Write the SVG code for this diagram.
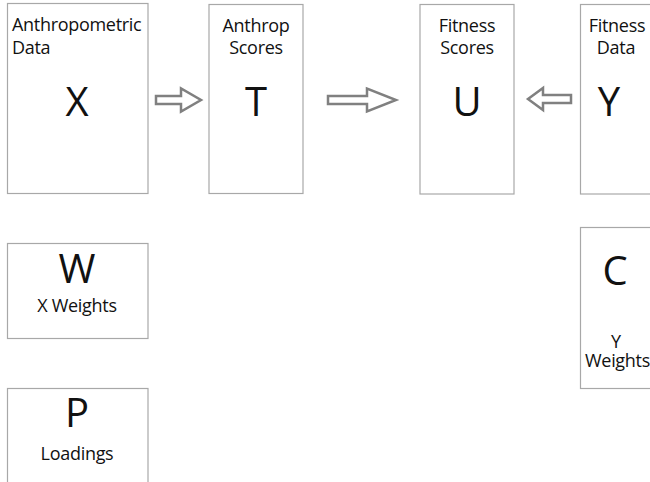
<svg xmlns="http://www.w3.org/2000/svg" width="650" height="482" viewBox="0 0 650 482">
<style>
.box{fill:#fff;stroke:#a8a8a8;stroke-width:1.2}
.lbl{font-family:"Open Sans","Liberation Sans",sans-serif;font-size:18px;letter-spacing:-0.3px;fill:#111}
.big{font-family:"Open Sans","Liberation Sans",sans-serif;font-size:40px;fill:#111;text-anchor:middle}
.c{text-anchor:middle}
.arr{fill:#fff;stroke:#808080;stroke-width:2.5;stroke-linejoin:miter}
</style>
<rect width="650" height="482" fill="#fff"/>
<g id="connectors">
<polygon class="arr" points="156,96 181,96 181,88.5 201,100 181,111.5 181,104 156,104"/>
<polygon class="arr" points="328,96 367,96 367,88.5 396,100 367,111.5 367,104 328,104"/>
<polygon class="arr" points="571,95 543,95 543,88 528,99 543,110 543,103 571,103"/>
</g>
<g id="node-X">
<rect class="box" x="7.5" y="3.5" width="140.5" height="190"/>
<text class="lbl" x="12" y="31">Anthropometric</text>
<text class="lbl" x="12" y="54">Data</text>
<text class="big" x="77" y="116">X</text>
</g>
<g id="node-T">
<rect class="box" x="209" y="4.5" width="94" height="189"/>
<text class="lbl c" x="256" y="32">Anthrop</text>
<text class="lbl c" x="256" y="54">Scores</text>
<text class="big" x="256" y="116">T</text>
</g>
<g id="node-U">
<rect class="box" x="420" y="4.5" width="94" height="189.5"/>
<text class="lbl c" x="467" y="32">Fitness</text>
<text class="lbl c" x="467" y="54">Scores</text>
<text class="big" x="467" y="116">U</text>
</g>
<g id="node-Y">
<rect class="box" x="580.5" y="4.5" width="100" height="189.5"/>
<text class="lbl c" x="617" y="32">Fitness</text>
<text class="lbl c" x="616" y="54">Data</text>
<text class="big" x="609" y="116">Y</text>
</g>
<g id="node-W">
<rect class="box" x="7.5" y="243.5" width="140.5" height="95"/>
<text class="big" x="77" y="283">W</text>
<text class="lbl c" x="77" y="312">X Weights</text>
</g>
<g id="node-P">
<rect class="box" x="7.5" y="388.5" width="140.5" height="120"/>
<text class="big" x="77" y="427">P</text>
<text class="lbl c" x="77" y="460">Loadings</text>
</g>
<g id="node-C">
<rect class="box" x="580.5" y="227.5" width="100" height="161"/>
<text class="big" x="615" y="285">C</text>
<text class="lbl c" x="616" y="348">Y</text>
<text class="lbl" x="585" y="367">Weights</text>
</g>
</svg>
